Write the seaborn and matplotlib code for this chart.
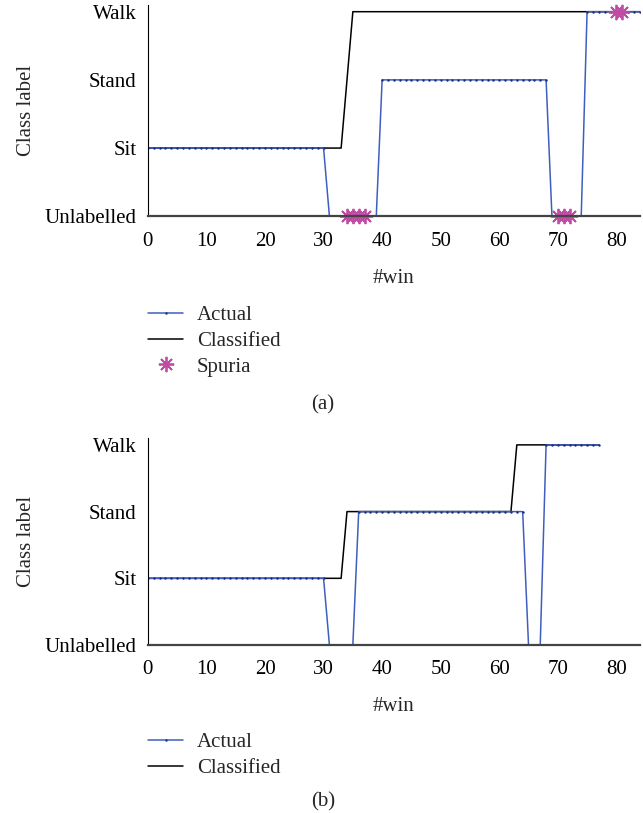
import numpy as np
import pandas as pd
import seaborn as sns
import matplotlib.pyplot as plt

# class levels on the y axis
classes = ["Unlabelled", "Sit", "Stand", "Walk"]

# (a) runs of windows: start, end, class
actual_a_start = [0, 31, 40, 69, 75]
actual_a_end = [30, 39, 68, 74, 84]
actual_a_class = ["Sit", "Unlabelled", "Stand", "Unlabelled", "Walk"]

classified_a_start = [0, 34, 35]
classified_a_end = [33, 34, 84]
classified_a_class = ["Sit", "Stand", "Walk"]

spuria_win = [34, 35, 36, 37, 70, 71, 72, 80, 81]
spuria_class = ["Unlabelled"] * 7 + ["Walk"] * 2

# (b)
actual_b_start = [0, 31, 36, 65, 68]
actual_b_end = [30, 35, 64, 67, 77]
actual_b_class = ["Sit", "Unlabelled", "Stand", "Unlabelled", "Walk"]

classified_b_start = [0, 34, 63]
classified_b_end = [33, 62, 77]
classified_b_class = ["Sit", "Stand", "Walk"]


def expand(starts, ends, labels):
    rows = []
    for s, e, c in zip(starts, ends, labels):
        for w in range(s, e + 1):
            rows.append((w, classes.index(c)))
    return pd.DataFrame(rows, columns=["win", "level"])


sns.set_style("white")
plt.rcParams['font.family'] = ['Liberation Serif', 'DejaVu Serif']
plt.rcParams['font.size'] = 15

BLUE = "#3f5fbf"
PINK = "#c04aa4"

fig = plt.figure(figsize=(6.43, 8.13), dpi=100)
ax_a = fig.add_axes([0.230, 0.734, 0.765, 0.260])
ax_b = fig.add_axes([0.230, 0.2066, 0.765, 0.2544])

panels = [
    (ax_a, expand(actual_a_start, actual_a_end, actual_a_class),
     expand(classified_a_start, classified_a_end, classified_a_class), True, "(a)", 0.6243, 0.5018),
    (ax_b, expand(actual_b_start, actual_b_end, actual_b_class),
     expand(classified_b_start, classified_b_end, classified_b_class), False, "(b)", 0.0988, 0.0135),
]

for ax, act, cls, with_spuria, tag, legend_y, tag_y in panels:
    sns.lineplot(data=act, x="win", y="level", ax=ax, color=BLUE, lw=1.1,
                 marker=".", markersize=3.5, markeredgewidth=0, markerfacecolor="#1d2f7a",
                 label="Actual", zorder=3)
    sns.lineplot(data=cls, x="win", y="level", ax=ax, color="black", lw=1.1,
                 label="Classified", zorder=2)
    if with_spuria:
        sp = pd.DataFrame({"win": spuria_win,
                           "level": [classes.index(c) for c in spuria_class]})
        ax.plot(sp["win"], sp["level"], ls="none", marker=(8, 2, 0), markersize=11,
                markeredgewidth=1.3, color=PINK, label="Spuria", zorder=4, clip_on=False)

    ax.set_xlim(0, 84)
    ax.set_ylim(0, 3.1)
    ax.set_xticks(range(0, 81, 10))
    ax.set_yticks(range(4))
    ax.set_yticklabels(classes)
    ax.set_xlabel("#win", labelpad=13)
    ax.set_ylabel("Class label", labelpad=6)
    ax.tick_params(direction="in", length=4, width=1, pad=8, colors="black", labelsize=15)
    ax.tick_params(axis="x", pad=11)
    for side in ["top", "right"]:
        ax.spines[side].set_visible(False)
    ax.spines["left"].set_color("black")
    ax.spines["bottom"].set_color("#444444")
    ax.spines["bottom"].set_linewidth(1.6)
    for sp_ in ax.spines.values():
        sp_.set_zorder(5)

    ax.legend(loc="upper left", bbox_to_anchor=(0.230, legend_y), bbox_transform=fig.transFigure,
              frameon=False, borderpad=0, borderaxespad=0, handlelength=1.7,
              handletextpad=0.65, labelspacing=0.3, fontsize=15)
    fig.text(0.502, tag_y, tag, ha="center", va="center", fontsize=15)

fig.savefig("out.png", dpi=100)
